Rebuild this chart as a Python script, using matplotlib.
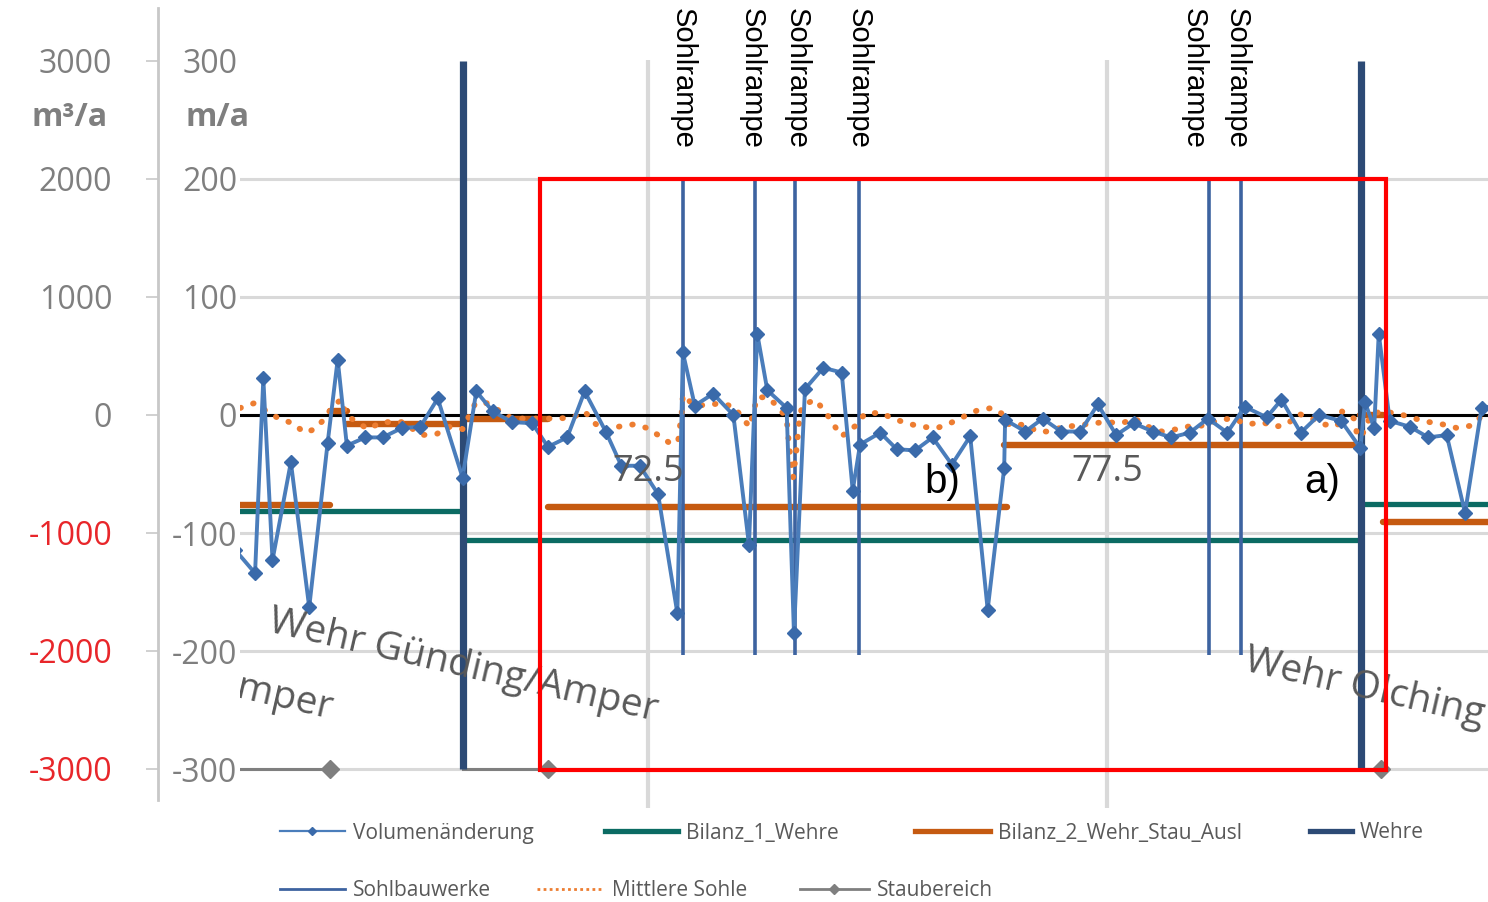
import numpy as np
import matplotlib
matplotlib.use("Agg")
import matplotlib.pyplot as plt
import matplotlib.transforms as mtransforms
from matplotlib.lines import Line2D
from matplotlib.patches import Rectangle

plt.rcParams['font.family'] = ['Open Sans', 'DejaVu Sans']

# Fluss-km und Werte (m/a)
vol_km = [68.00, 68.22, 68.31, 68.41, 68.61, 68.81, 69.01, 69.12, 69.22, 69.42,
          69.61, 69.82, 70.02, 70.21, 70.48, 70.63, 70.81, 71.02, 71.24, 71.41,
          71.62, 71.81, 72.04, 72.21, 72.41, 72.61, 72.82, 72.88, 73.01, 73.21,
          73.43, 73.60, 73.69, 73.80, 74.01, 74.09, 74.21, 74.41, 74.61, 74.73,
          74.81, 75.03, 75.21, 75.41, 75.60, 75.81, 76.01, 76.20, 76.38, 76.39,
          76.61, 76.80, 77.00, 77.21, 77.40, 77.60, 77.79, 78.00, 78.20, 78.40,
          78.60, 78.81, 79.00, 79.24, 79.40, 79.61, 79.81, 80.05, 80.26, 80.31,
          80.41, 80.46, 80.58, 80.80, 81.00, 81.20, 81.40, 81.58, 81.75]
vol_val = [-114, -134, 31, -123, -40, -163, -24, 47, -26, -19,
           -19, -11, -10, 14, -53, 20, 3, -6, -7, -27,
           -19, 20, -14, -43, -43, -67, -168, 53, 8, 18,
           0, -110, 69, 21, 6, -185, 22, 40, 36, -64,
           -25, -15, -29, -30, -19, -42, -18, -165, -45, -4,
           -14, -3, -14, -14, 9, -17, -7, -14, -19, -15,
           -3, -15, 7, -2, 13, -15, 0, -5, -28, 11,
           -11, 69, -5, -10, -19, -17, -83, 6, 8]

sohle_km = [68.06, 68.21, 68.35, 68.48, 68.63, 68.76, 68.87, 68.98, 69.07, 69.16,
            69.21, 69.45, 69.60, 69.82, 70.04, 70.20, 70.34, 70.48, 70.62, 70.75,
            70.89, 71.02, 71.21, 71.52, 71.68, 71.81, 71.92, 72.04, 72.17, 72.34,
            72.49, 72.63, 72.76, 72.83, 72.87, 72.88, 72.99, 73.14, 73.28, 73.44,
            73.53, 73.61, 73.65, 73.69, 73.80, 73.92, 74.01, 74.04, 74.08, 74.12,
            74.15, 74.18, 74.32, 74.43, 74.52, 74.61, 74.78, 74.86, 75.03, 75.17,
            75.32, 75.48, 75.65, 75.79, 75.95, 76.09, 76.25, 76.38, 76.44, 76.61,
            76.74, 76.88, 77.02, 77.18, 77.34, 77.50, 77.66, 77.80, 77.95, 78.10,
            78.26, 78.43, 78.57, 78.72, 78.87, 79.03, 79.19, 79.33, 79.46, 79.59,
            79.73, 79.86, 80.01, 80.06, 80.19, 80.23, 80.29, 80.38, 80.50, 80.68,
            80.85, 81.01, 81.16, 81.31, 81.47, 81.58]
sohle_val = [6, 10, 3, -3, -7, -15, -12, -3, 8, 13,
             0, -12, -6, -6, -17, -16, -10, -12, 10, 10,
             3, -3, -3, -3, -2, 3, -7, -14, -10, -8,
             -11, -18, -25, -21, 4, 17, 9, 8, 10, 7,
             -3, -10, 3, 15, 15, 7, -3, -28, -53, -28,
             -3, 8, 13, 3, -8, -18, -8, 1, 2, -3,
             -7, -10, -11, -7, -1, 4, 6, 0, -9, -8,
             -14, -14, -10, -9, -7, -6, -7, -3, -10, -14,
             -12, -9, -9, -4, -3, -8, -6, -10, -8, 1,
             -3, -8, -9, 3, -3, -19, -15, 1, 3, 1,
             -3, -6, -8, -11, -9, -1]

bil1_start = [67.9, 70.48, 80.27]
bil1_end = [70.48, 80.27, 81.8]
bil1_val = [-81, -106, -75]

bil2_start = [67.9, 69.04, 69.22, 70.48, 71.41, 76.38, 80.26, 80.51]
bil2_end = [69.04, 69.22, 70.48, 71.41, 76.41, 80.26, 80.51, 81.8]
bil2_val = [-76, 3, -8, -3, -78, -25, 0, -91]

stau_km = [67.9, 69.04, np.nan, 70.48, 71.41, np.nan, 80.27, 80.48]
stau_val = [-300, -300, np.nan, -300, -300, np.nan, -300, -300]

wehr_km = [70.48, 80.27]
sohl_km = [72.88, 73.67, 74.10, 74.80, 78.61, 78.96]
sohl_label_km = [72.88, 73.63, 74.12, 74.80, 78.44, 78.91]

km_ticks = [72.5, 77.5]
ma_ticks = [-300, -200, -100, 0, 100, 200, 300]
m3_ticks = [-3000, -2000, -1000, 0, 1000, 2000, 3000]

box_km = (71.32, 80.54)
box_val = (-301, 200)

W, H = 1488, 902
fig = plt.figure(figsize=(W / 100, H / 100), dpi=100)
fig.patch.set_facecolor('white')

ax = fig.add_axes([240 / W, 1 - 808 / H, 1248 / W, 748 / H])
ax.set_xlim(68.056, 81.65)
ax.set_ylim(-333, 300.8)
for s in ax.spines.values():
    s.set_visible(False)

ax.set_xticks(km_ticks)
ax.tick_params(axis='x', length=0, labelbottom=False)
ax.xaxis.grid(True, color='#d9d9d9', lw=3)
ax.set_yticks(ma_ticks)
ax.set_yticklabels([str(v) for v in ma_ticks])
ax.tick_params(axis='y', length=0, pad=2, labelsize=23, labelcolor='#7f7f7f')
ax.yaxis.grid(True, color='#d9d9d9', lw=2.2)
ax.get_ygridlines()[-1].set_visible(False)
ax.set_axisbelow(True)
ax.axhline(0, color='black', lw=2.2, zorder=1.5)

# Bilanzen
ax.hlines(bil1_val, bil1_start, bil1_end, color='#0b6b63', lw=3.8, zorder=2)
ax.hlines(bil2_val, bil2_start, bil2_end, color='#c55a11', lw=4.6,
          capstyle='round', zorder=2.2)
ax.plot(stau_km, stau_val, color='#7f7f7f', lw=2.2, marker='D', ms=9,
        markevery=[1, 4, 7], zorder=2.3)

# Bauwerke
ax.vlines(sohl_km, -203, 200, color='#3d63a0', lw=2.6, zorder=3)
ax.vlines(wehr_km, -300, 300, color='#2c4a75', lw=5.2, zorder=3.1)

ax.plot(sohle_km, sohle_val, color='#ed7d31', lw=4.2, ls=(0, (0.1, 2.2)),
        dash_capstyle='round', zorder=4)
ax.plot(vol_km, vol_val, color='#4a7dbb', lw=2.8, marker='D', ms=7,
        mfc='#3a6aaa', mec='#3a6aaa', zorder=5)

ax.add_patch(Rectangle((box_km[0], box_val[0]), box_km[1] - box_km[0],
                       box_val[1] - box_val[0], fill=False, ec='#ff0000',
                       lw=3, zorder=10, clip_on=False))

# Beschriftungen im Diagramm
for k in km_ticks:
    ax.text(k, -48, f'{k}', ha='center', va='center', fontsize=26,
            color='#595959', zorder=6)
ax.text(75.71, -57, 'b)', ha='center', va='center', fontsize=29,
        family='Liberation Sans', color='black', zorder=6)
ax.text(79.84, -57, 'a)', ha='center', va='center', fontsize=29,
        family='Liberation Sans', color='black', zorder=6)
ax.text(70.49, -213, 'Wehr Günding/Amper', rotation=-13, rotation_mode='anchor',
        ha='center', va='center', fontsize=28, color='#595959', zorder=6,
        clip_on=False)
ax.text(80.31, -231, 'Wehr Olching', rotation=-13, rotation_mode='anchor',
        ha='center', va='center', fontsize=28, color='#595959', zorder=6,
        clip_on=False)
ax.text(69.04, -257, 'Amper', rotation=-13, rotation_mode='anchor',
        ha='right', va='baseline', fontsize=28, color='#595959', zorder=6,
        clip_on=True)

trans = mtransforms.blended_transform_factory(ax.transData, fig.transFigure)
for k in sohl_label_km:
    ax.text(k, 1 - 8 / H, 'Sohlrampe', rotation=-90, ha='center', va='top',
            fontsize=21, family='Liberation Sans', color='black',
            transform=trans, clip_on=False)

# linke Achse m³/a
axl = fig.add_axes([158 / W, 1 - 800 / H, 0.0005, 792 / H])
axl.set_ylim(-3263, 3449)
axl.set_xticks([])
axl.patch.set_visible(False)
for s in ['top', 'right', 'bottom']:
    axl.spines[s].set_visible(False)
axl.spines['left'].set_color('#c8c8c8')
axl.spines['left'].set_linewidth(2)
axl.set_yticks(m3_ticks)
axl.set_yticklabels([str(v) for v in m3_ticks])
axl.tick_params(axis='y', length=9, width=1.2, color='#c8c8c8', pad=24,
                labelsize=23)
for lab, v in zip(axl.get_yticklabels(), m3_ticks):
    lab.set_color('#e8262a' if v < 0 else '#7f7f7f')

fig.text(70 / W, 1 - 118 / H, 'm³/a', ha='center', va='center', fontsize=23,
         fontweight='bold', color='#7f7f7f')
fig.text(218 / W, 1 - 118 / H, 'm/a', ha='center', va='center', fontsize=23,
         fontweight='bold', color='#7f7f7f')

# Legende
leg_handles = [
    Line2D([], [], color='#4a7dbb', lw=1.6, marker='D', ms=4, mfc='#3a6aaa', mec='#3a6aaa'),
    Line2D([], [], color='#0b6b63', lw=3.8),
    Line2D([], [], color='#c55a11', lw=3.8),
    Line2D([], [], color='#2c4a75', lw=3.8),
    Line2D([], [], color='#3d63a0', lw=2),
    Line2D([], [], color='#ed7d31', lw=2, ls=(0, (1, 1.2))),
    Line2D([], [], color='#7f7f7f', lw=2, marker='D', ms=5),
]
leg_labels = ['Volumenänderung', 'Bilanz_1_Wehre', 'Bilanz_2_Wehr_Stau_Ausl',
              'Wehre', 'Sohlbauwerke', 'Mittlere Sohle', 'Staubereich']
leg_pos = [(280, 833), (605, 833), (915, 833), (1310, 833),
           (280, 891), (537, 891), (800, 891)]
leg_len = [3.1, 3.5, 3.6, 2.0, 3.1, 3.2, 3.3]
for h, lab, (px, py), hl in zip(leg_handles, leg_labels, leg_pos, leg_len):
    fig.legend(handles=[h], labels=[lab], loc='center left',
               bbox_to_anchor=(px / W, 1 - py / H), frameon=False, fontsize=15,
               handlelength=hl, handletextpad=0.4, borderpad=0,
               borderaxespad=0, labelcolor='#595959', numpoints=1)

fig.savefig('out.png', dpi=100)
